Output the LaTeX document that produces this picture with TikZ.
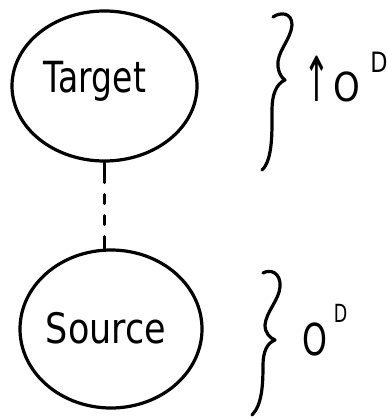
\documentclass[tikz,border=0pt]{standalone}
\usepackage{fontspec}
\setmainfont{DejaVu Sans}
\usetikzlibrary{shapes.geometric}

\begin{document}
\begin{tikzpicture}[x=1pt, y=-1pt,
  ink/.style={line width=3.2pt, line cap=round, line join=round},
  bubble/.style={ellipse, draw, ink, inner sep=0pt},
  word/.style={inner sep=0pt, anchor=base},
  link/.style={line width=3pt, line cap=round,
    dash pattern=on 20pt off 12pt on 9pt off 12pt on 9pt off 12pt on 30pt off 0pt},
]
\useasboundingbox (0,0) rectangle (387,417);

% the two sets
\node[bubble, minimum width=185pt, minimum height=150pt] (target) at (104.5,86) {};
\node[bubble, minimum width=182pt, minimum height=158pt] (source) at (111,329) {};

\node[word] (targettext) at (95,93) {\scalebox{1}[1.3]{\fontsize{33}{33}\selectfont Target}};
\node[word] (sourcetext) at (106,343) {\scalebox{1}[1.2]{\fontsize{35}{35}\selectfont Source}};

% dashed link between them
\draw[link] (target.south) -- (target.south |- source.north);

% brace next to the target
\draw[ink] (273,17) .. controls (280,12) and (292,12) .. (292,25)
  .. controls (291,40) and (276,52) .. (278,67)
  .. controls (279,74) and (282,78) .. (285,80)
  .. controls (276,84) and (272,95) .. (272,110)
  .. controls (272,130) and (273,160) .. (262,170);

% brace next to the source
\draw[ink] (263,273) .. controls (270,269) and (281,272) .. (280,287)
  .. controls (279,300) and (266,312) .. (265,325)
  .. controls (265,333) and (270,338) .. (275,340)
  .. controls (267,343) and (263,352) .. (263,365)
  .. controls (263,385) and (262,405) .. (252,415);

% labels: up-arrow O^D and O^D
\node[word] (uparrow) at (316.5,102) {\scalebox{0.8}[1.55]{\fontsize{40}{40}\selectfont ↑}};
\node[word] (upO) at (346.5,102) {\scalebox{0.85}[1]{\fontsize{40}{40}\selectfont O}};
\node[word] (upD) at (379,73) {\scalebox{0.8}[1]{\fontsize{28}{28}\selectfont D}};

\node[word] (baseO) at (314.5,355) {\scalebox{0.72}[1]{\fontsize{44}{44}\selectfont O}};
\node[word] (baseD) at (340.5,322) {\scalebox{0.7}[1]{\fontsize{25}{25}\selectfont D}};
\end{tikzpicture}
\end{document}
